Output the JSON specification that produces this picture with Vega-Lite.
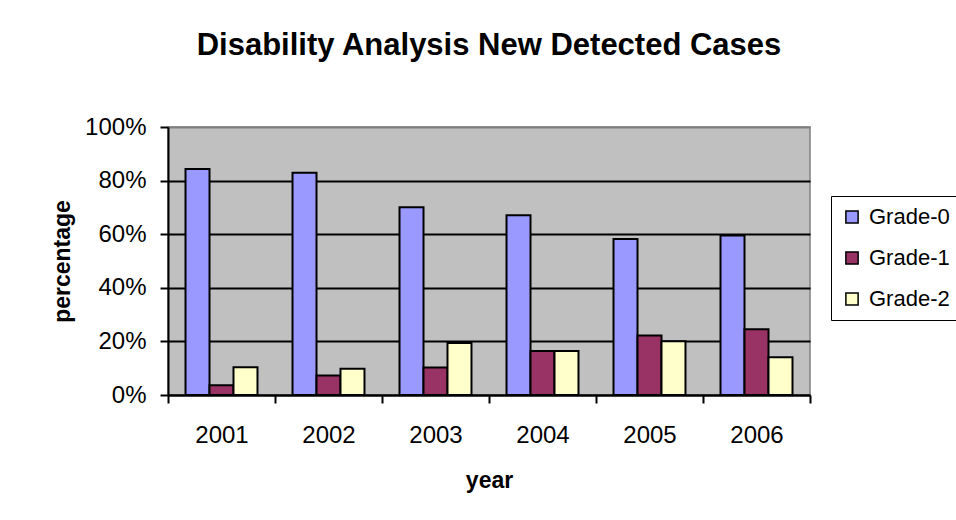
{
  "$schema": "https://vega.github.io/schema/vega-lite/v6.json",
  "width": 642,
  "height": 268,
  "autosize": {"type": "none"},
  "padding": {"left": 168, "top": 127, "right": 146, "bottom": 125},
  "background": "white",
  "title": {
    "text": "Disability Analysis New Detected Cases",
    "font": "Liberation Sans",
    "fontSize": 31,
    "fontWeight": "bold",
    "color": "black",
    "anchor": "middle",
    "frame": "group",
    "baseline": "alphabetic",
    "offset": 29
  },
  "data": {
    "values": [
      {"year": "2001", "grade": "Grade-0", "value": 0.843},
      {"year": "2001", "grade": "Grade-1", "value": 0.036},
      {"year": "2001", "grade": "Grade-2", "value": 0.104},
      {"year": "2002", "grade": "Grade-0", "value": 0.829},
      {"year": "2002", "grade": "Grade-1", "value": 0.073},
      {"year": "2002", "grade": "Grade-2", "value": 0.098},
      {"year": "2003", "grade": "Grade-0", "value": 0.701},
      {"year": "2003", "grade": "Grade-1", "value": 0.103},
      {"year": "2003", "grade": "Grade-2", "value": 0.194},
      {"year": "2004", "grade": "Grade-0", "value": 0.671},
      {"year": "2004", "grade": "Grade-1", "value": 0.164},
      {"year": "2004", "grade": "Grade-2", "value": 0.164},
      {"year": "2005", "grade": "Grade-0", "value": 0.582},
      {"year": "2005", "grade": "Grade-1", "value": 0.222},
      {"year": "2005", "grade": "Grade-2", "value": 0.201},
      {"year": "2006", "grade": "Grade-0", "value": 0.595},
      {"year": "2006", "grade": "Grade-1", "value": 0.245},
      {"year": "2006", "grade": "Grade-2", "value": 0.141}
    ]
  },
  "mark": {"type": "bar", "stroke": "black", "strokeWidth": 2},
  "encoding": {
    "x": {
      "field": "year",
      "type": "nominal",
      "scale": {"paddingInner": 0, "paddingOuter": 0},
      "axis": {
        "title": "year",
        "labelAngle": 0,
        "tickBand": "extent",
        "tickSize": 8,
        "labelPadding": 20,
        "titlePadding": 22,
        "grid": false
      }
    },
    "xOffset": {
      "field": "grade",
      "type": "nominal",
      "scale": {"paddingInner": 0, "paddingOuter": 0.73}
    },
    "y": {
      "field": "value",
      "type": "quantitative",
      "scale": {"domain": [0, 1]},
      "axis": {
        "title": "percentage",
        "format": ".0%",
        "values": [0, 0.2, 0.4, 0.6, 0.8, 1],
        "tickSize": 8,
        "labelPadding": 14,
        "titlePadding": 10,
        "grid": true,
        "gridColor": {"condition": {"test": "datum.value >= 1", "value": "#808080"}, "value": "black"},
        "gridWidth": 2
      }
    },
    "color": {
      "field": "grade",
      "type": "nominal",
      "scale": {"domain": ["Grade-0", "Grade-1", "Grade-2"], "range": ["#9999FF", "#993366", "#FFFFCC"]},
      "legend": {
        "title": null,
        "orient": "none",
        "legendX": 663,
        "legendY": 69,
        "strokeColor": "black",
        "fillColor": "white",
        "padding": 10,
        "symbolType": "square",
        "symbolSize": 150,
        "symbolStrokeColor": "black",
        "symbolStrokeWidth": 1.5,
        "symbolOpacity": 1,
        "labelFontSize": 22,
        "labelFont": "Liberation Sans",
        "labelColor": "black",
        "labelOffset": 6,
        "labelLimit": 200,
        "rowPadding": 19
      }
    }
  },
  "config": {
    "view": {"fill": "#C0C0C0", "stroke": "#808080", "strokeWidth": 1.5},
    "axis": {
      "labelFont": "Liberation Sans",
      "labelFontSize": 24,
      "labelColor": "black",
      "titleFont": "Liberation Sans",
      "titleFontSize": 23,
      "titleFontWeight": "bold",
      "titleColor": "black",
      "domainColor": "black",
      "domainWidth": 2,
      "tickColor": "black",
      "tickWidth": 2
    }
  }
}
